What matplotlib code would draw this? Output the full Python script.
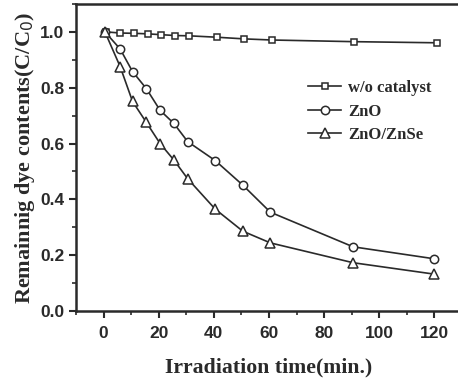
import matplotlib
matplotlib.use("Agg")
import matplotlib.pyplot as plt
from matplotlib.ticker import MultipleLocator

# Data
t_sq = [1, 6, 11, 16, 21, 26, 31, 41, 51, 61, 91, 121]
wo_catalyst = [1.0, 0.996, 0.995, 0.993, 0.99, 0.987, 0.986, 0.981, 0.975, 0.971, 0.965, 0.961]
t = [0.5, 6, 10.5, 15.5, 20.5, 25.5, 30.5, 40.5, 50.5, 60.5, 90.5, 120]
zno = [1.0, 0.939, 0.858, 0.797, 0.719, 0.672, 0.607, 0.539, 0.451, 0.354, 0.230, 0.187]
zno_znse = [1.0, 0.876, 0.751, 0.676, 0.600, 0.541, 0.474, 0.365, 0.286, 0.244, 0.173, 0.132]
labels = ["w/o catalyst", "ZnO", "ZnO/ZnSe"]
xticks = [0, 20, 40, 60, 80, 100, 120]
yticks = [0.0, 0.2, 0.4, 0.6, 0.8, 1.0]

serif = "Liberation Serif"
sans = "Liberation Sans"
col = "#2a2a2a"

fig = plt.figure(figsize=(4.58, 3.80), dpi=100)
ax = fig.add_axes([76/458, 69/380, (462-76)/458, 307/380])

ms = dict(markerfacecolor="white", markeredgecolor=col, color=col, linewidth=1.2, markeredgewidth=1.1)
ax.plot(t_sq, wo_catalyst, marker="s", markersize=5, label=labels[0], **ms)
ax.plot(t, zno, marker="o", markersize=6, label=labels[1], **ms)
ax.plot(t, zno_znse, marker="^", markersize=6.5, label=labels[2], **ms)

ax.set_xlim(-10, 130)
ax.set_ylim(0, 1.1)
ax.set_xticks(xticks)
ax.set_yticks(yticks)
ax.xaxis.set_minor_locator(MultipleLocator(10))
ax.yaxis.set_minor_locator(MultipleLocator(0.1))
ax.set_yticklabels([f"{v:.1f}" for v in yticks])
ax.tick_params(which="major", direction="out", length=5, width=1.5, color=col, labelsize=12.5)
ax.tick_params(axis="x", which="major", pad=6)
ax.tick_params(which="minor", direction="out", length=3, width=1.2, color=col)
for lab in ax.get_xticklabels() + ax.get_yticklabels():
    lab.set_fontfamily(sans)
    lab.set_fontweight("bold")
    lab.set_color(col)
for s in ax.spines.values():
    s.set_linewidth(1.8)
    s.set_color(col)

ax.set_xlabel("Irradiation time(min.)", fontfamily=serif, fontweight="bold", fontsize=15.7, color=col, labelpad=12)
ax.set_ylabel("Remainnig dye contents(C/C$_0$)", fontfamily=serif, fontweight="bold", fontsize=16, color=col, labelpad=2)

leg = ax.legend(loc="upper left", bbox_to_anchor=(308/458, 1 - 80/380), bbox_transform=fig.transFigure,
                frameon=False, prop={"family": serif, "weight": "bold", "size": 12},
                handlelength=2.0, handletextpad=0.4, labelspacing=0.45, borderaxespad=0, borderpad=0)
for txt in leg.get_texts():
    txt.set_color(col)

fig.savefig("out.png", dpi=100)
